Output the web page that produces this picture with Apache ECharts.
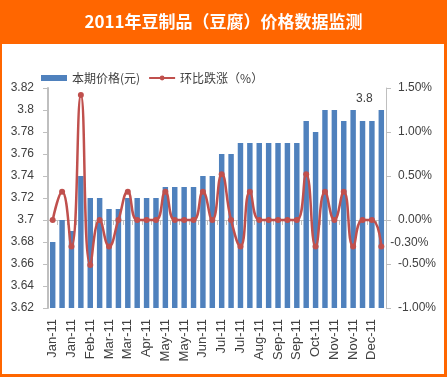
<!DOCTYPE html>
<html><head><meta charset="utf-8">
<script src="https://cdn.jsdelivr.net/npm/echarts@6/dist/echarts.min.js"></script>
<style>html,body{margin:0;padding:0;background:#fff}#c{width:447px;height:377px}</style>
</head><body><div id="c"></div>
<script>
const titleText = '2011年豆制品（豆腐）价格数据监测';
const seriesNames = ['本期价格(元)', '环比跌涨（%）'];
const categories = [
 'Jan-11','Jan-11','Jan-11','Feb-11','Feb-11','Feb-11','Mar-11','Mar-11','Mar-11',
 'Apr-11','Apr-11','Apr-11','May-11','May-11','May-11','Jun-11','Jun-11','Jun-11',
 'Jul-11','Jul-11','Jul-11','Aug-11','Aug-11','Aug-11','Sep-11','Sep-11','Sep-11',
 'Oct-11','Oct-11','Oct-11','Nov-11','Nov-11','Nov-11','Dec-11','Dec-11','Dec-11'];
const prices = [3.68,3.70,3.69,3.74,3.72,3.72,3.71,3.71,3.72,3.72,3.72,3.72,
 3.73,3.73,3.73,3.73,3.74,3.74,3.76,3.76,3.77,3.77,3.77,3.77,
 3.77,3.77,3.77,3.79,3.78,3.80,3.80,3.79,3.80,3.79,3.79,3.80];
const changes = [0,0.32,-0.30,1.42,-0.51,0,-0.30,0,0.32,0,0,0,
 0.32,0,0,0,0.32,0,0.52,0,-0.30,0.32,0,0,
 0,0,0,0.52,-0.30,0.32,0,0.32,-0.30,0,0,-0.30];
const leftTicks = {min:3.62, max:3.82, step:0.02};
const rightTicks = {min:-1, max:1.5, step:0.5};

const chart = echarts.init(document.getElementById('c'), null, {renderer:'canvas'});
const axisColor = '#bfbfbf';
const textColor = '#404040';
const lastIdx = prices.length - 1;
chart.setOption({
  animation:false,
  graphic:[
    {type:'rect', z:-10, shape:{x:0,y:0,width:447,height:377}, style:{fill:'#ff6600'}},
    {type:'rect', z:-9, shape:{x:2,y:44,width:442,height:330}, style:{fill:'#ffffff'}},
    {type:'text', z:10, left:'center', top:13, style:{text:titleText, fill:'#ffffff', font:'bold 17px "Noto Sans CJK SC", sans-serif'}}
  ],
  legend:{
    left:36, top:67, itemGap:8, itemWidth:26, itemHeight:6,
    textStyle:{color:textColor, fontSize:12, fontFamily:'"Noto Sans CJK SC", sans-serif'},
    data:[{name:seriesNames[0], icon:'rect'}, {name:seriesNames[1]}]
  },
  grid:{left:48, right:61, top:88, bottom:69, containLabel:false},
  xAxis:{
    type:'category', data:categories, boundaryGap:true,
    axisLine:{lineStyle:{color:axisColor, width:1}},
    axisTick:{show:true, interval:0, length:5, lineStyle:{color:axisColor}},
    axisLabel:{interval:1, rotate:90, color:textColor, fontSize:13, margin:11, fontFamily:'"Liberation Sans", Arial, sans-serif'}
  },
  yAxis:[
    {type:'value', min:leftTicks.min, max:leftTicks.max, interval:leftTicks.step,
     axisLine:{show:true, lineStyle:{color:axisColor, width:2}},
     axisTick:{show:true, length:5, lineStyle:{color:axisColor}},
     splitLine:{show:false},
     axisLabel:{color:textColor, fontSize:12, margin:14, fontFamily:'"Liberation Sans", Arial, sans-serif',
       formatter:v=>String(parseFloat(v.toFixed(2)))}},
    {type:'value', min:rightTicks.min, max:rightTicks.max, interval:rightTicks.step,
     axisLine:{show:true, lineStyle:{color:axisColor, width:1}},
     axisTick:{show:true, length:5, lineStyle:{color:axisColor}},
     splitLine:{show:false},
     axisLabel:{color:textColor, fontSize:12, margin:12, fontFamily:'"Liberation Sans", Arial, sans-serif',
       formatter:v=>v.toFixed(2)+'%'}}
  ],
  series:[
    {name:seriesNames[0], type:'bar', yAxisIndex:0, barWidth:'58%',
     itemStyle:{color:'#4f81bd'},
     data:prices.map((v,i)=> i===lastIdx ? {value:v, label:{show:true, position:'top', distance:5, offset:[-17,0],
        color:textColor, fontSize:12, fontFamily:'"Liberation Sans", Arial, sans-serif',
        formatter:p=>String(parseFloat(p.value.toFixed(2)))}} : v)},
    {name:seriesNames[1], type:'line', yAxisIndex:1, smooth:0.5, z:5,
     symbol:'circle', symbolSize:6,
     lineStyle:{color:'#c0504d', width:2.5}, itemStyle:{color:'#c0504d'},
     data:changes.map((v,i)=> i===lastIdx ? {value:v, label:{show:true, position:'right', distance:6, offset:[0,-4],
        color:textColor, fontSize:12, fontFamily:'"Liberation Sans", Arial, sans-serif',
        formatter:p=>p.value.toFixed(2)+'%'}} : v)}
  ]
});
</script></body></html>
